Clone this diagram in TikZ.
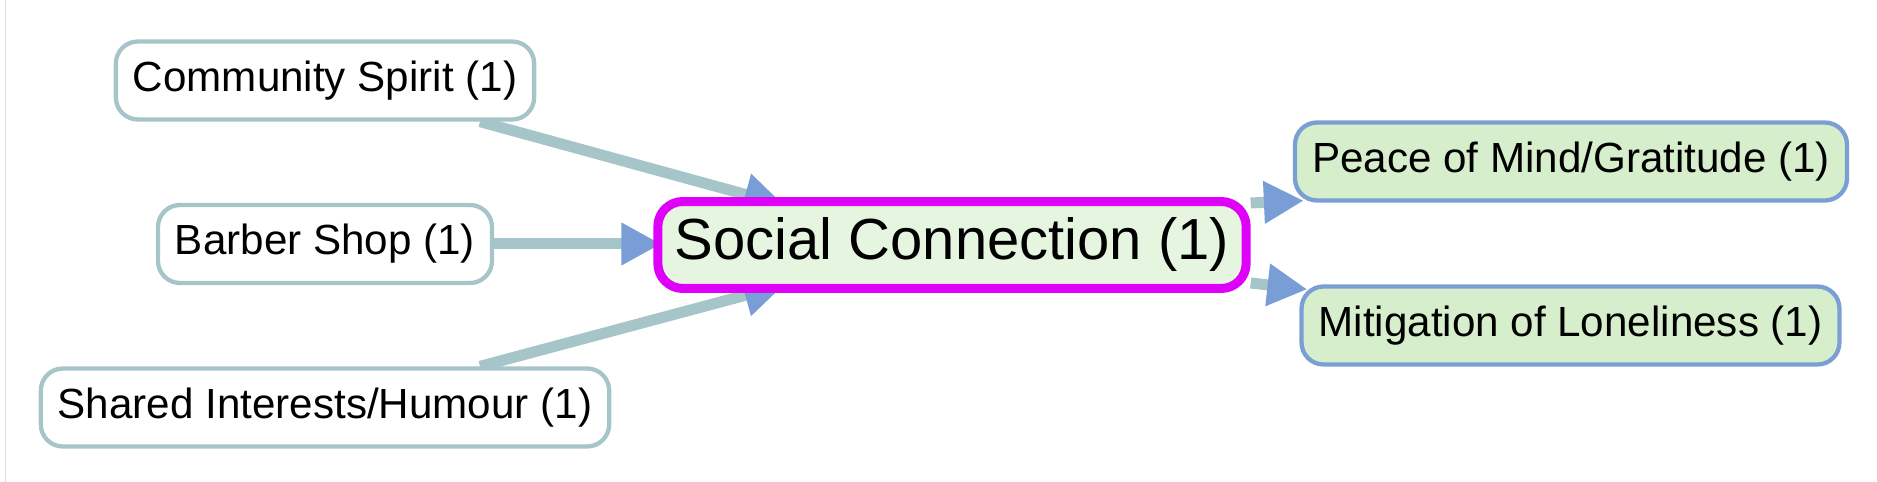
\documentclass[tikz,border=0pt]{standalone}
\usepackage{fontspec}
\setmainfont{Liberation Sans}
\usetikzlibrary{arrows.meta,calc,backgrounds}
\definecolor{srcline}{HTML}{A6C5C9}
\definecolor{tipblue}{HTML}{789ED5}
\definecolor{hubfill}{HTML}{E6F5E0}
\definecolor{hubline}{HTML}{DF00F7}
\definecolor{tgtfill}{HTML}{D6EECB}
\definecolor{tgtline}{HTML}{7A9FD4}
\begin{document}
\begin{tikzpicture}[x=0.02cm,y=-0.02cm,
    src/.style={draw=srcline,line width=0.086cm,fill=white,rounded corners=0.44cm,
      minimum height=1.56cm,inner xsep=0.34cm,font=\fontsize{24}{29}\selectfont},
    hub/.style={draw=hubline,line width=0.18cm,fill=hubfill,rounded corners=0.5cm,
      minimum height=1.74cm,inner xsep=0.34cm,font=\fontsize{33}{40}\selectfont},
    tgt/.style={draw=tgtline,line width=0.086cm,fill=tgtfill,rounded corners=0.44cm,
      minimum height=1.56cm,inner xsep=0.34cm,font=\fontsize{24}{29}\selectfont},
    edge/.style={draw=srcline,line width=0.22cm,
      -{Triangle[length=0.8cm,width=0.8cm,color=tipblue]}}]
    \useasboundingbox (0,0) rectangle (1877,482);
    \draw[black!12,line width=0.6pt] (5.5,0) -- (5.5,482);
    \node[src] (cs) at (325,80.5) {Community Spirit (1)};
    \node[src] (bs) at (325,244) {Barber Shop (1)};
    \node[src] (si) at (325,407.5) {Shared Interests/Humour (1)};
    \node[hub] (sc) at (952,245) {Social Connection (1)};
    \node[tgt] (pm) at (1571,161.5) {Peace of Mind/Gratitude (1)};
    \node[tgt] (ml) at (1570.5,325.5) {Mitigation of Loneliness (1)};
    \begin{pgfonlayer}{background}
    \draw[edge] ($(cs.south)+(155,0)$) -- ($(sc.north)+(-168,8)$);
    \draw[edge] (bs.east) -- ($(bs.east -| sc.west)+(8,0)$);
    \draw[edge] ($(si.north)+(155,0)$) -- ($(sc.south)+(-168,-8)$);
    \draw[edge] ($(sc.east)+(0,-42)$) -- ($(pm.south west)+(11,-2)$);
    \draw[edge] ($(sc.east)+(0,38)$) -- ($(ml.north west)+(8,5)$);
    \end{pgfonlayer}
\end{tikzpicture}
\end{document}
